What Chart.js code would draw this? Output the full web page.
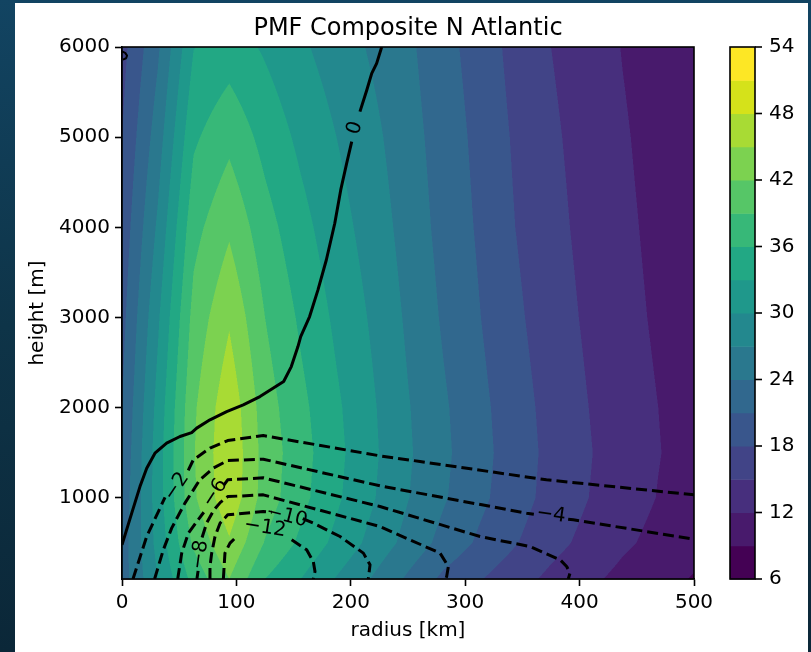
<!DOCTYPE html>
<html><head><meta charset="utf-8">
<script src="https://cdn.jsdelivr.net/npm/chart.js@4.4.1/dist/chart.umd.min.js"></script>
<style>
html,body{margin:0;padding:0;}
body{width:811px;height:652px;overflow:hidden;position:relative;background:linear-gradient(180deg,#124462 0%,#0e3448 50%,#0b2738 100%);}
#fig{position:absolute;left:15px;top:3px;width:793px;height:649px;background:#ffffff;}
#wrap{position:absolute;left:0;top:0;width:811px;height:652px;}
</style></head><body>
<div id="fig"></div>
<div id="wrap"><canvas id="c" width="811" height="652"></canvas></div>
<script>
// ---------------- data ----------------
const radiusKm = [0, 31.25, 62.5, 93.75, 125, 156.25, 187.5, 218.75, 250, 281.25, 312.5, 343.75, 375, 406.25, 437.5, 468.75, 500];
const heightM = [100, 500, 1000, 1500, 2000, 3000, 4000, 5000, 6000];
// tangential wind (m/s) at each height, one value per radius
const windAt100m  = [22.5, 30.0, 37.0, 42.0, 36.0, 33.0, 29.8, 26.8, 23.5, 20.3, 18.2, 16.2, 14.3, 12.7, 11.2, 9.9, 8.8];
const windAt500m  = [22.5, 31.0, 39.5, 44.6, 38.8, 35.4, 32.2, 29.1, 26.0, 23.0, 20.5, 18.2, 16.0, 14.2, 12.5, 11.2, 10.0];
const windAt1000m = [22.0, 31.5, 41.5, 47.3, 40.6, 36.9, 33.5, 30.3, 27.1, 24.3, 21.7, 19.3, 17.0, 15.1, 13.3, 11.9, 10.8];
const windAt1500m = [21.5, 31.5, 41.8, 47.6, 40.8, 37.2, 33.8, 30.6, 27.4, 24.6, 22.0, 19.5, 17.2, 15.3, 13.5, 12.1, 11.0];
const windAt2000m = [21.0, 31.0, 41.5, 47.2, 40.4, 36.8, 33.5, 30.4, 27.2, 24.4, 21.8, 19.3, 17.0, 15.1, 13.3, 12.0, 10.9];
const windAt3000m = [20.0, 29.5, 40.0, 44.6, 39.0, 35.5, 32.4, 29.6, 26.5, 23.6, 21.1, 18.6, 16.4, 14.6, 12.9, 11.6, 10.5];
const windAt4000m = [19.0, 27.5, 38.0, 41.5, 37.2, 34.0, 31.2, 28.7, 25.8, 23.0, 20.6, 18.0, 15.9, 14.2, 12.6, 11.3, 10.2];
const windAt5000m = [18.0, 25.5, 35.5, 38.2, 35.0, 32.3, 30.0, 27.8, 25.2, 22.6, 20.2, 17.6, 15.5, 13.9, 12.3, 11.0, 9.9];
const windAt6000m = [17.0, 23.5, 32.9, 34.5, 32.6, 30.5, 28.6, 26.6, 24.6, 22.0, 19.7, 17.0, 15.0, 13.5, 11.9, 10.7, 9.6];

const fillLevels = [6, 9, 12, 15, 18, 21, 24, 27, 30, 33, 36, 39, 42, 45, 48, 51, 54];
const colorbarTicks = [6, 12, 18, 24, 30, 36, 42, 48, 54];
const xTickValues = [0, 100, 200, 300, 400, 500];
const yTickValues = [1000, 2000, 3000, 4000, 5000, 6000];

// radial-wind contour lines (radius km, height m); null = break for a label
const contour0R  = [0, 8.5, 15.7, 21.6, 28.8, 39, 50.7, 60.9, 65.3, 76.9, 91.5, 106, 120.6, 132, 141.3, 148, 153.8, 156.2, 164, 171.3, 178.6, 186, 191.2, 196.4, 200.8, null, 208, 214, 218.3, 222.6, 227];
const contour0Z  = [479, 830, 1125, 1329, 1495, 1606, 1680, 1724, 1773, 1865, 1957, 2031, 2123, 2216, 2290, 2456, 2678, 2789, 3011, 3306, 3638, 4045, 4415, 4711, 4950, null, 5283, 5523, 5708, 5819, 6000];
const contour0bR = [0, 2.8, 4.4, 3.6, 0.8];
const contour0bZ = [5950, 5935, 5905, 5875, 5860];
const contourM2R = [9.6, 21.6, 31.8, 37.6, null, 57.9, 62.3, 76.9, 92.4, 123.5, 225.5, 260.5, 371, 500];
const contourM2Z = [100, 571, 848, 1006, null, 1304, 1421, 1551, 1635, 1691, 1466, 1403, 1200, 1033];
const contourM4R = [28.5, 36.1, 43.4, 55, 68, 79.8, 92.4, 123.5, 225.5, 353.7, 360, null, 390, 394.5, 500];
const contourM4Z = [100, 423, 664, 941, 1200, 1330, 1414, 1429, 1133, 830, 818, null, 763, 756, 542];
const contourM6R = [48.7, 52.2, 58, 65, 71.5, null, 89, 92.4, 123.5, 225.5, 313, 356.6, 383, 388.7, 391.6, 390.1];
const contourM6Z = [100, 387, 609, 730, 840, null, 1140, 1200, 1222, 904, 571, 460, 313, 239, 165, 100];
const contourM8R = [65.5, 66.5, null, 70, 74, 80, 86, 92.4, 123.5, 225.5, 278, 285.3, 283.8, 283];
const contourM8Z = [100, 190, null, 560, 720, 860, 950, 1014, 1033, 682, 387, 239, 128, 100];
const contourM10R = [76.9, 76.9, 78.4, 81.3, 85.7, 92.4, 123.5, 131, null, 158, 167, 190.6, 211, 216.8, 215.3];
const contourM10Z = [100, 239, 387, 571, 719, 812, 849, 840, null, 770, 720, 571, 387, 257, 100];
const contourM12R = [88.6, 90, 94.4, 100.2, null, 148.3, 161.4, 167.2, 168.7, 167.2];
const contourM12Z = [100, 387, 498, 571, null, 534, 424, 294, 183, 100];

const labelTexts = ['0', '\u22122', '\u22124', '\u22126', '\u22128', '\u221210', '\u221212'];
const labelR     = [203.7, 47.8, 375, 81.3, 68.2, 144, 125];
const labelZ     = [5102, 1125, 812, 1052, 370, 793, 667];
const labelAngle = [-74, -56, 8, -57, -82, 14, 9];

// ---------------- styling ----------------
const bandColors = ['#440154', '#481a6c', '#472f7d', '#414487', '#39568c', '#31688e', '#2a788e', '#23888e',
                    '#1f988b', '#22a884', '#37b878', '#56c667', '#7cd250', '#a8db34', '#d5e21a', '#fde725'];
const FONT = '"DejaVu Sans", "Liberation Sans", sans-serif';
Chart.defaults.font.family = FONT;

const windRows = [windAt100m, windAt500m, windAt1000m, windAt1500m, windAt2000m, windAt3000m, windAt4000m, windAt5000m, windAt6000m];

function hexToRgb(h) { return [parseInt(h.slice(1,3),16), parseInt(h.slice(3,5),16), parseInt(h.slice(5,7),16)]; }
const bandRgb = bandColors.map(hexToRgb);

function locate(arr, v) {
  let i = 0;
  while (i < arr.length - 2 && v > arr[i + 1]) i++;
  let t = (v - arr[i]) / (arr[i + 1] - arr[i]);
  return [i, Math.max(0, Math.min(1, t))];
}
function bandIndex(v) {
  for (let k = fillLevels.length - 2; k >= 0; k--) if (v >= fillLevels[k]) return k;
  return 0;
}

const fieldPlugin = {
  id: 'field',
  beforeDatasetsDraw(chart) {
    const {ctx, chartArea} = chart;
    const xs = chart.scales.x, ys = chart.scales.y;
    const L = Math.round(chartArea.left), T = Math.round(chartArea.top);
    const W = Math.round(chartArea.right) - L, H = Math.round(chartArea.bottom) - T;
    const off = document.createElement('canvas');
    off.width = W; off.height = H;
    const octx = off.getContext('2d');
    const img = octx.createImageData(W, H);
    const S = 2;
    const colInfo = [];
    for (let px = 0; px < W * S; px++) colInfo.push(locate(radiusKm, xs.getValueForPixel(L + (px + 0.5) / S)));
    const rowInfo = [];
    for (let py = 0; py < H * S; py++) rowInfo.push(locate(heightM, ys.getValueForPixel(T + (py + 0.5) / S)));
    for (let y = 0; y < H; y++) {
      for (let x = 0; x < W; x++) {
        let R = 0, G = 0, B = 0;
        for (let sy = 0; sy < S; sy++) {
          const [j, ty] = rowInfo[y * S + sy];
          const r0 = windRows[j], r1 = windRows[j + 1];
          for (let sx = 0; sx < S; sx++) {
            const [i, tx] = colInfo[x * S + sx];
            const v = r0[i] * (1 - tx) * (1 - ty) + r0[i + 1] * tx * (1 - ty) + r1[i] * (1 - tx) * ty + r1[i + 1] * tx * ty;
            const c = bandRgb[bandIndex(v)];
            R += c[0]; G += c[1]; B += c[2];
          }
        }
        const o = (y * W + x) * 4, n = S * S;
        img.data[o] = R / n; img.data[o + 1] = G / n; img.data[o + 2] = B / n; img.data[o + 3] = 255;
      }
    }
    octx.putImageData(img, 0, 0);
    ctx.drawImage(off, L, T);
  }
};

const overlayPlugin = {
  id: 'overlay',
  afterDatasetsDraw(chart) {
    const {ctx, chartArea} = chart;
    const xs = chart.scales.x, ys = chart.scales.y, cb = chart.scales.cb;
    ctx.save();
    ctx.fillStyle = '#000';
    ctx.font = '20px ' + FONT;
    ctx.textAlign = 'center';
    ctx.textBaseline = 'middle';
    labelTexts.forEach((t, k) => {
      ctx.save();
      ctx.translate(xs.getPixelForValue(labelR[k]), ys.getPixelForValue(labelZ[k]));
      ctx.rotate(labelAngle[k] * Math.PI / 180);
      ctx.fillText(t, 0, 0);
      ctx.restore();
    });
    ctx.strokeStyle = '#000';
    ctx.lineWidth = 1.6;
    ctx.strokeRect(chartArea.left, chartArea.top, chartArea.right - chartArea.left, chartArea.bottom - chartArea.top);
    ctx.font = '24px ' + FONT;
    ctx.textAlign = 'center';
    ctx.textBaseline = 'alphabetic';
    ctx.fillText('PMF Composite N Atlantic', (chartArea.left + chartArea.right) / 2, 35);
    const cx0 = 730, cx1 = 755;
    for (let k = 0; k < fillLevels.length - 1; k++) {
      const yTop = cb.getPixelForValue(fillLevels[k + 1]);
      const yBot = cb.getPixelForValue(fillLevels[k]);
      ctx.fillStyle = bandColors[k];
      ctx.fillRect(cx0, yTop, cx1 - cx0, yBot - yTop + 0.5);
    }
    ctx.strokeStyle = '#000';
    ctx.lineWidth = 1.6;
    ctx.strokeRect(cx0, cb.getPixelForValue(fillLevels[fillLevels.length - 1]), cx1 - cx0,
                   cb.getPixelForValue(fillLevels[0]) - cb.getPixelForValue(fillLevels[fillLevels.length - 1]));
    ctx.fillStyle = '#000';
    ctx.font = '20px ' + FONT;
    ctx.textAlign = 'left';
    ctx.textBaseline = 'middle';
    colorbarTicks.forEach(v => {
      const y = cb.getPixelForValue(v);
      ctx.beginPath(); ctx.moveTo(cx1, y); ctx.lineTo(cx1 + 7, y); ctx.stroke();
      ctx.fillText(String(v), cx1 + 14, y);
    });
    ctx.restore();
  }
};

function segments(rs, zs) {
  const out = []; let cur = [];
  rs.forEach((r, k) => {
    if (r === null || zs[k] === null) { if (cur.length) out.push(cur); cur = []; }
    else cur.push({x: r, y: zs[k]});
  });
  if (cur.length) out.push(cur);
  return out;
}
const contourSets = [
  [contour0R, contour0Z, false, 3], [contour0bR, contour0bZ, false, 2],
  [contourM2R, contourM2Z, true, 3], [contourM4R, contourM4Z, true, 3], [contourM6R, contourM6Z, true, 3],
  [contourM8R, contourM8Z, true, 3], [contourM10R, contourM10Z, true, 3], [contourM12R, contourM12Z, true, 3]
];
const datasets = [];
contourSets.forEach(([rs, zs, dashed, lw]) => {
  segments(rs, zs).forEach(seg => datasets.push({
    data: seg, borderColor: '#000', borderWidth: lw, borderDash: dashed ? [11, 5] : [],
    pointRadius: 0, fill: false, tension: 0, clip: 0, borderCapStyle: 'butt', borderJoinStyle: 'round'
  }));
});

const axisFont = {family: FONT, size: 20};
new Chart(document.getElementById('c').getContext('2d'), {
  type: 'line',
  data: {datasets},
  options: {
    responsive: false, animation: false, parsing: true,
    layout: {padding: {left: 0, right: 0, top: 47, bottom: 0}},
    plugins: {legend: {display: false}, tooltip: {enabled: false}, title: {display: false}},
    scales: {
      x: {
        type: 'linear', position: 'bottom', min: 0, max: 500,
        afterBuildTicks: s => { s.ticks = xTickValues.map(v => ({value: v})); },
        afterFit: s => { s.height = 73; },
        grid: {drawOnChartArea: false, drawTicks: true, tickLength: 7, tickWidth: 1.6, tickColor: '#000'},
        border: {display: true, color: '#000', width: 1.6},
        ticks: {color: '#000', font: axisFont, padding: 5, maxRotation: 0, autoSkip: false, callback: v => String(v)},
        title: {display: true, text: 'radius [km]', color: '#000', font: axisFont, padding: {top: 0, bottom: 9}}
      },
      y: {
        type: 'linear', position: 'left', min: 100, max: 6000,
        afterBuildTicks: s => { s.ticks = yTickValues.map(v => ({value: v})); },
        afterFit: s => { s.width = 122; },
        grid: {drawOnChartArea: false, drawTicks: true, tickLength: 7, tickWidth: 1.6, tickColor: '#000'},
        border: {display: true, color: '#000', width: 1.6},
        ticks: {color: '#000', font: axisFont, padding: 5, autoSkip: false, callback: v => String(v)},
        title: {display: true, text: 'height [m]', color: '#000', font: axisFont, padding: {top: 26, bottom: 0}}
      },
      cb: {
        type: 'linear', position: 'right', min: 6, max: 54,
        afterFit: s => { s.width = 117; },
        grid: {display: false, drawTicks: false}, border: {display: false},
        ticks: {display: false}
      }
    }
  },
  plugins: [fieldPlugin, overlayPlugin]
});
</script>
</body></html>
